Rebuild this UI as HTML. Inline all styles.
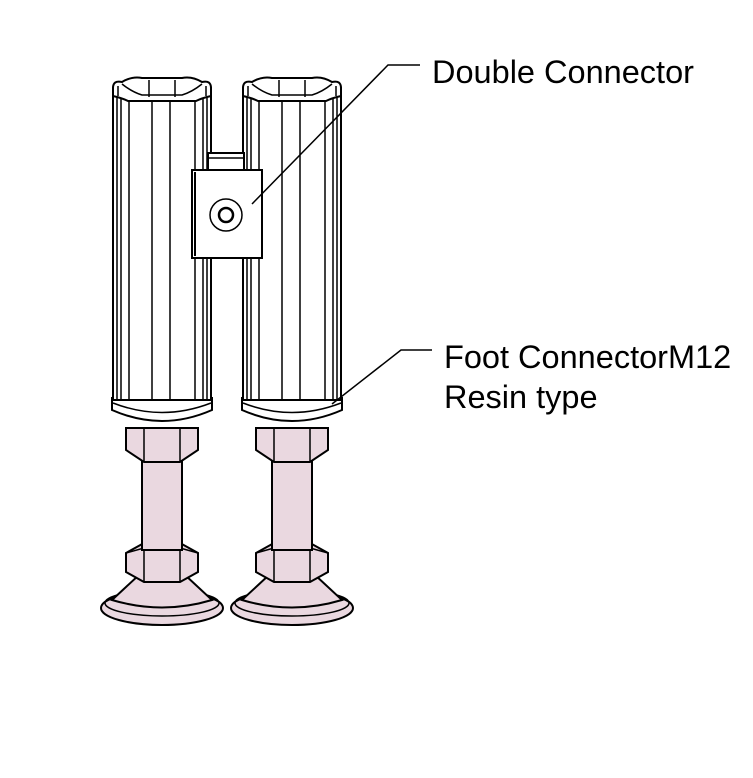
<!DOCTYPE html>
<html><head><style>body{margin:0;background:#fff}svg{display:block}</style></head><body>
<svg width="753" height="778" viewBox="0 0 753 778" xmlns="http://www.w3.org/2000/svg">
<defs>
<g id="leg" stroke="#000" stroke-width="2" fill="#ead8e0">
  <ellipse cx="0" cy="608" rx="61" ry="17"/>
  <ellipse cx="0" cy="603" rx="57" ry="13" fill="none" stroke-width="1.5"/>
  <path d="M-50 600 L-22 574 L22 574 L50 600 Q0 615 -50 600Z"/>
  <path d="M-36 553 L-18 543 L18 543 L36 553 L36 572 L18 582 L-18 582 L-36 572Z"/>
  <path d="M-18 548 L-18 582 M18 548 L18 582 M-36 553 L-18 548 L18 548 L36 553" fill="none" stroke-width="1.5"/>
  <rect x="-20" y="460" width="40" height="90"/>
  <path d="M-36 428 L36 428 L36 450 L18 462 L-18 462 L-36 450Z"/>
  <path d="M-18 428 L-18 462 M18 428 L18 462" fill="none" stroke-width="1.5"/>
  <path d="M-50 398 L-50 410 Q0 432 50 410 L50 398 Z" fill="#fff"/>
  <path d="M-49 403 Q0 422 49 403" fill="none" stroke-width="1.5"/>
</g>
<g id="tube" stroke="#000" fill="#fff">
  <rect x="-49" y="88" width="98" height="312" stroke-width="2"/>
  <path d="M-45 92 L-45 400 M-41 92 L-41 400 M-33 100 L-33 400 M8 100 L8 400 M-10 100 L-10 400 M33 100 L33 400 M41 92 L41 400 M45 92 L45 400" stroke-width="1.5" fill="none"/>
  <path d="M-49 88 Q-49 80 -40 82 Q-30 76 -20 78 L20 78 Q30 76 40 82 Q49 80 49 88 L49 96 Q40 98 34 101 L-34 101 Q-40 98 -49 96Z" stroke-width="2"/>
  <path d="M-40 84 Q-30 92 -20 95 L20 95 Q30 92 40 84" fill="none" stroke-width="1.5"/>
  <path d="M-13 80 L-13 97 M13 80 L13 97 M-44 86 L-44 96 M44 86 L44 96" stroke-width="1.5"/>
</g>
</defs>
<use href="#leg" x="162"/>
<use href="#leg" x="292"/>
<use href="#tube" x="162"/>
<use href="#tube" x="292"/>
<rect x="208" y="153" width="36" height="17" fill="#fff" stroke="#000" stroke-width="2"/>
<line x1="208" y1="158" x2="244" y2="158" stroke="#000" stroke-width="1.5"/>
<rect x="192" y="170" width="70" height="88" fill="#fff" stroke="#000" stroke-width="2"/>
<line x1="195" y1="172" x2="195" y2="256" stroke="#000" stroke-width="2"/>
<circle cx="226" cy="215" r="16" fill="#fff" stroke="#000" stroke-width="1.5"/>
<circle cx="226" cy="215" r="7" fill="#fff" stroke="#000" stroke-width="2.5"/>
<polyline points="252,204 388,65 420,65" fill="none" stroke="#000" stroke-width="1.5"/>
<polyline points="332,404 401,350 432,350" fill="none" stroke="#000" stroke-width="1.5"/>
<g font-family="Liberation Sans, sans-serif" font-size="32.5" fill="#000">
<text x="432" y="83">Double Connector</text>
<text x="444" y="368">Foot ConnectorM12</text>
<text x="444" y="408">Resin type</text>
</g>
</svg>
</body></html>
